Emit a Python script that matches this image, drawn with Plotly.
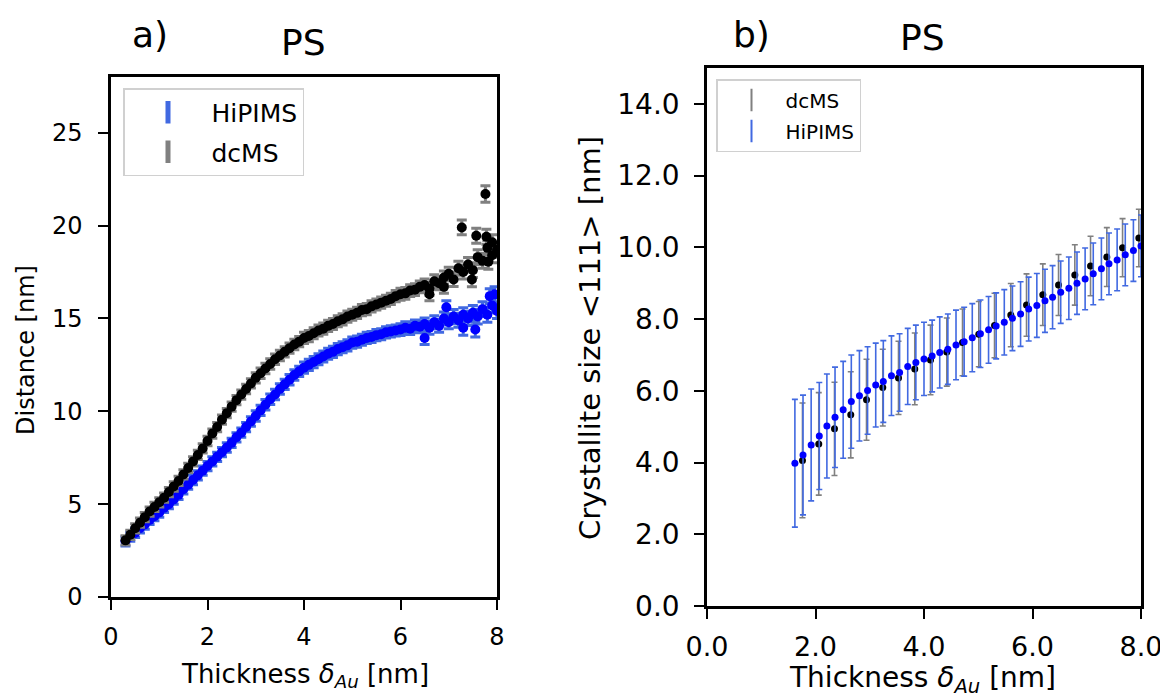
import plotly.graph_objects as go

# ---------------- Panel a) : Distance vs thickness ----------------
a_x = [0.3, 0.4, 0.5, 0.6, 0.7, 0.8, 0.9, 1.0, 1.1, 1.2, 1.3, 1.4, 1.5, 1.6, 1.7, 1.8, 1.9,
       2.0, 2.1, 2.2, 2.3, 2.4, 2.5, 2.6, 2.7, 2.8, 2.9, 3.0, 3.1, 3.2, 3.3, 3.4, 3.5, 3.6,
       3.7, 3.8, 3.9, 4.0, 4.1, 4.2, 4.3, 4.4, 4.5, 4.6, 4.7, 4.8, 4.9, 5.0, 5.1, 5.2, 5.3,
       5.4, 5.5, 5.6, 5.7, 5.8, 5.9, 6.0, 6.1, 6.2, 6.3, 6.4, 6.5, 6.6, 6.7, 6.8, 6.9, 7.0,
       7.1, 7.2, 7.3, 7.4, 7.5, 7.6, 7.7, 7.8, 7.9, 8.0]

a_dcms = [3.05, 3.35, 3.7, 4.0, 4.3, 4.6, 4.85, 5.1, 5.35, 5.65, 5.95, 6.25, 6.6, 6.95, 7.3,
          7.65, 8.0, 8.4, 8.8, 9.15, 9.55, 9.9, 10.25, 10.6, 10.9, 11.2, 11.5, 11.8, 12.05,
          12.3, 12.55, 12.8, 13.0, 13.2, 13.4, 13.6, 13.75, 13.95, 14.05, 14.2, 14.35, 14.45,
          14.6, 14.7, 14.85, 14.95, 15.1, 15.2, 15.3, 15.45, 15.5, 15.65, 15.75, 15.85, 15.95,
          16.05, 16.2, 16.3, 16.35, 16.5, 16.55, 16.7, 16.8, 16.6, 17.0, 16.9, 17.2, 17.4,
          17.1, 17.7, 17.5, 17.9, 17.6, 18.3, 18.1, 18.8, 18.4, 18.7]
a_dcms_err = [0.25, 0.25, 0.25, 0.25, 0.25, 0.25, 0.25, 0.25, 0.25, 0.25, 0.25,
              0.25, 0.25, 0.25, 0.25, 0.25, 0.25, 0.25, 0.25, 0.25, 0.25, 0.25, 0.25, 0.25,
              0.25, 0.25, 0.25, 0.28, 0.28, 0.28, 0.28, 0.28, 0.28, 0.28, 0.28, 0.28, 0.28,
              0.3, 0.3, 0.3, 0.3, 0.3, 0.3, 0.3, 0.3, 0.3, 0.3, 0.3, 0.3, 0.3, 0.3, 0.3, 0.3,
              0.3, 0.3, 0.3, 0.3, 0.32, 0.32, 0.32, 0.32, 0.32, 0.32, 0.35, 0.35, 0.35, 0.35,
              0.35, 0.38, 0.38, 0.38, 0.38, 0.4, 0.4, 0.4, 0.4, 0.4, 0.4]
# scattered points near the end of the dcMS series
a_dcms_x_extra = [6.6, 6.9, 7.27, 7.48, 7.57, 7.76, 7.78, 7.82, 7.9]
a_dcms_extra = [16.3, 16.7, 19.9, 17.1, 19.45, 21.7, 19.4, 18.05, 19.1]
a_dcms_err_extra = [0.35, 0.35, 0.4, 0.4, 0.4, 0.45, 0.4, 0.4, 0.4]

a_hip = [3.0, 3.25, 3.45, 3.7, 3.9, 4.15, 4.35, 4.55, 4.8, 5.0, 5.25, 5.5, 5.8, 6.05, 6.3,
         6.55, 6.8, 7.05, 7.3, 7.55, 7.8, 8.05, 8.3, 8.6, 8.85, 9.15, 9.45, 9.75, 10.05,
         10.35, 10.65, 10.9, 11.2, 11.45, 11.7, 11.95, 12.15, 12.35, 12.5, 12.65, 12.8,
         12.95, 13.1, 13.2, 13.35, 13.45, 13.55, 13.7, 13.75, 13.85, 13.95, 14.0, 14.1,
         14.15, 14.25, 14.3, 14.35, 14.4, 14.5, 14.45, 14.6, 14.55, 14.7, 14.5, 14.8, 14.6,
         15.0, 14.8, 15.1, 14.9, 15.2, 15.0, 15.3, 15.1, 15.5, 15.2, 15.7, 15.4]
a_hip_err = [0.25, 0.25, 0.25, 0.25, 0.25, 0.25, 0.25, 0.25, 0.25, 0.25, 0.25, 0.25, 0.25,
             0.25, 0.25, 0.25, 0.25, 0.25, 0.25, 0.25, 0.25, 0.25, 0.25, 0.25, 0.25, 0.25,
             0.25, 0.28, 0.28, 0.28, 0.28, 0.28, 0.28, 0.28, 0.28, 0.28, 0.28, 0.3, 0.3,
             0.3, 0.3, 0.3, 0.3, 0.3, 0.3, 0.3, 0.3, 0.3, 0.3, 0.3, 0.3, 0.3, 0.3, 0.3, 0.3,
             0.3, 0.3, 0.32, 0.32, 0.32, 0.32, 0.32, 0.32, 0.35, 0.35, 0.35, 0.35, 0.35,
             0.38, 0.38, 0.38, 0.38, 0.4, 0.4, 0.4, 0.4, 0.4, 0.4]
a_hip_x_extra = [6.5, 6.95, 7.3, 7.55, 7.85, 7.95]
a_hip_extra = [13.95, 15.6, 14.5, 14.4, 16.2, 16.3]
a_hip_err_extra = [0.35, 0.35, 0.4, 0.4, 0.4, 0.4]

# ---------------- Panel b) : Crystallite size vs thickness ----------------
b_dcms_x = [1.76, 2.06, 2.35, 2.65, 2.94, 3.24, 3.53, 3.83, 4.12, 4.42, 4.71, 5.01, 5.30,
            5.60, 5.89, 6.19, 6.48, 6.78, 7.07, 7.37, 7.66, 7.96]
b_dcms = [4.06, 4.52, 4.94, 5.33, 5.75, 6.09, 6.36, 6.61, 6.86, 7.08, 7.35, 7.58, 7.82,
          8.11, 8.39, 8.68, 8.95, 9.23, 9.48, 9.73, 9.99, 10.26]
b_dcms_err = [1.6, 1.43, 1.3, 1.2, 1.13, 1.07, 1.02, 1.0, 0.97, 0.95, 0.93, 0.91, 0.9,
              0.88, 0.87, 0.86, 0.85, 0.84, 0.83, 0.82, 0.81, 0.8]

b_hip_x = [1.62, 1.77, 1.92, 2.07, 2.21, 2.36, 2.51, 2.66, 2.81, 2.96, 3.11, 3.25, 3.40,
           3.55, 3.70, 3.85, 4.00, 4.15, 4.29, 4.44, 4.59, 4.74, 4.89, 5.04, 5.19, 5.33,
           5.48, 5.63, 5.78, 5.93, 6.08, 6.23, 6.37, 6.52, 6.67, 6.82, 6.97, 7.12, 7.27,
           7.41, 7.56, 7.71, 7.86, 8.00]
b_hip = [3.98, 4.21, 4.49, 4.74, 5.02, 5.26, 5.47, 5.70, 5.86, 6.01, 6.16, 6.26, 6.42,
         6.51, 6.68, 6.79, 6.89, 6.97, 7.07, 7.16, 7.28, 7.37, 7.48, 7.59, 7.70, 7.81, 7.91,
         8.02, 8.14, 8.28, 8.38, 8.51, 8.61, 8.75, 8.86, 9.00, 9.12, 9.26, 9.40, 9.54, 9.65,
         9.79, 9.91, 10.04]
b_hip_err = [1.78, 1.67, 1.56, 1.49, 1.45, 1.40, 1.35, 1.30, 1.26, 1.22, 1.17, 1.14, 1.11,
             1.08, 1.06, 1.04, 1.02, 1.0, 0.99, 0.98, 0.97, 0.96, 0.95, 0.94, 0.93, 0.92,
             0.91, 0.9, 0.9, 0.89, 0.89, 0.88, 0.88, 0.87, 0.87, 0.87, 0.86, 0.86, 0.86,
             0.86, 0.86, 0.86, 0.86, 0.86]

a_xticks = [0, 2, 4, 6, 8]
a_yticks = [0, 5, 10, 15, 20, 25]
b_xticks = [0.0, 2.0, 4.0, 6.0, 8.0]
b_yticks = [0.0, 2.0, 4.0, 6.0, 8.0, 10.0, 12.0, 14.0]

FONT = "DejaVu Sans"
BLUE = "#0000ff"
RBLUE = "#4169e1"
GREY = "#808080"

# page body has an 8px margin: positions below are measured on the window
OFF = 8
W, H = 1168 - OFF, 700 - OFF


def px(x):
    return (x - OFF) / W


def py(y):
    return 1 - (y - OFF) / H


fig = go.Figure()

# ---- panel a traces (HiPIMS first, dcMS on top) ----
fig.add_trace(go.Scatter(
    x=a_x + a_hip_x_extra, y=a_hip + a_hip_extra, mode="markers",
    marker=dict(color=BLUE, size=10),
    error_y=dict(type="data", array=a_hip_err + a_hip_err_extra, color=RBLUE,
                 thickness=3, width=5),
    xaxis="x", yaxis="y", showlegend=False))
fig.add_trace(go.Scatter(
    x=a_x + a_dcms_x_extra, y=a_dcms + a_dcms_extra, mode="markers",
    marker=dict(color="black", size=10),
    error_y=dict(type="data", array=a_dcms_err + a_dcms_err_extra, color=GREY,
                 thickness=3, width=5),
    xaxis="x", yaxis="y", showlegend=False))

# ---- panel b traces (dcMS first, HiPIMS on top) ----
fig.add_trace(go.Scatter(
    x=b_dcms_x, y=b_dcms, mode="markers",
    marker=dict(color="black", size=7),
    error_y=dict(type="data", array=b_dcms_err, color=GREY, thickness=1.6, width=3),
    xaxis="x2", yaxis="y2", showlegend=False))
fig.add_trace(go.Scatter(
    x=b_hip_x, y=b_hip, mode="markers",
    marker=dict(color=BLUE, size=7),
    error_y=dict(type="data", array=b_hip_err, color=RBLUE, thickness=1.6, width=3),
    xaxis="x2", yaxis="y2", showlegend=False))

# ---- legend-only entries ----
fig.add_trace(go.Scatter(x=[None], y=[None], mode="markers", name="HiPIMS",
                         legendgroup="a1",
                         marker=dict(symbol="line-ns", size=22, color=RBLUE,
                                     line=dict(width=5, color=RBLUE)),
                         xaxis="x", yaxis="y", legend="legend"))
fig.add_trace(go.Scatter(x=[None], y=[None], mode="markers", name="dcMS",
                         legendgroup="a2",
                         marker=dict(symbol="line-ns", size=22, color=GREY,
                                     line=dict(width=5, color=GREY)),
                         xaxis="x", yaxis="y", legend="legend"))
fig.add_trace(go.Scatter(x=[None], y=[None], mode="markers", name="dcMS",
                         legendgroup="b1",
                         marker=dict(symbol="line-ns", size=18, color=GREY,
                                     line=dict(width=2, color=GREY)),
                         xaxis="x2", yaxis="y2", legend="legend2"))
fig.add_trace(go.Scatter(x=[None], y=[None], mode="markers", name="HiPIMS",
                         legendgroup="b2",
                         marker=dict(symbol="line-ns", size=18, color=RBLUE,
                                     line=dict(width=2, color=RBLUE)),
                         xaxis="x2", yaxis="y2", legend="legend2"))


def ax(size=24, **kw):
    base = dict(showline=True, mirror=True, linecolor="black", linewidth=2.5,
                ticks="outside", ticklen=10, tickwidth=2, tickcolor="black",
                showgrid=False, zeroline=False, automargin=False,
                tickfont=dict(family=FONT, size=size, color="black"))
    base.update(kw)
    return base


def ann(text, x, y, size, angle=0):
    return dict(text=text, x=px(x), y=py(y), xref="paper", yref="paper",
                xanchor="center", yanchor="middle", showarrow=False, textangle=angle,
                font=dict(family=FONT, size=size, color="black"))


fig.update_layout(
    width=W, height=H,
    margin=dict(l=0, r=0, t=0, b=0),
    paper_bgcolor="white", plot_bgcolor="white",
    font=dict(family=FONT, color="black"),
    xaxis=ax(domain=[px(111), px(497)], range=[0, 8], tickvals=a_xticks, anchor="y",
             ticklabelstandoff=6),
    yaxis=ax(domain=[py(597), py(77)], range=[0, 28], tickvals=a_yticks, anchor="x",
             ticklabelstandoff=11),
    xaxis2=ax(size=27, domain=[px(707), px(1141)], range=[0, 8], tickvals=b_xticks,
              tickformat=".1f", anchor="y2", ticklabelstandoff=5),
    yaxis2=ax(size=28, domain=[py(606), py(68)], range=[0, 15], tickvals=b_yticks,
              tickformat=".1f", anchor="x2", ticklabelstandoff=9),
    legend=dict(x=px(123), y=py(88), xanchor="left", yanchor="top",
                bgcolor="white", bordercolor="#d0d0d0", borderwidth=1.5,
                font=dict(family=FONT, size=25, color="black"), itemwidth=77,
                tracegroupgap=4),
    legend2=dict(x=px(716), y=py(79), xanchor="left", yanchor="top",
                 bgcolor="white", bordercolor="#d0d0d0", borderwidth=1.5,
                 font=dict(family=FONT, size=20, color="black"), itemwidth=58,
                 tracegroupgap=2),
    annotations=[
        ann("a)", 150, 34, 36),
        ann("PS", 303, 42, 36),
        ann("b)", 752, 34, 36),
        ann("PS", 922, 38, 36),
        ann("Thickness <i>δ</i><sub><i>Au</i></sub> [nm]", 305, 675, 26),
        ann("Thickness <i>δ</i><sub><i>Au</i></sub> [nm]", 922, 679, 28),
        ann("Distance [nm]", 26, 350, 24, -90),
        ann("Crystallite size &lt;111&gt; [nm]", 590, 338, 29, -90),
    ],
)

fig.write_html("out.html")
